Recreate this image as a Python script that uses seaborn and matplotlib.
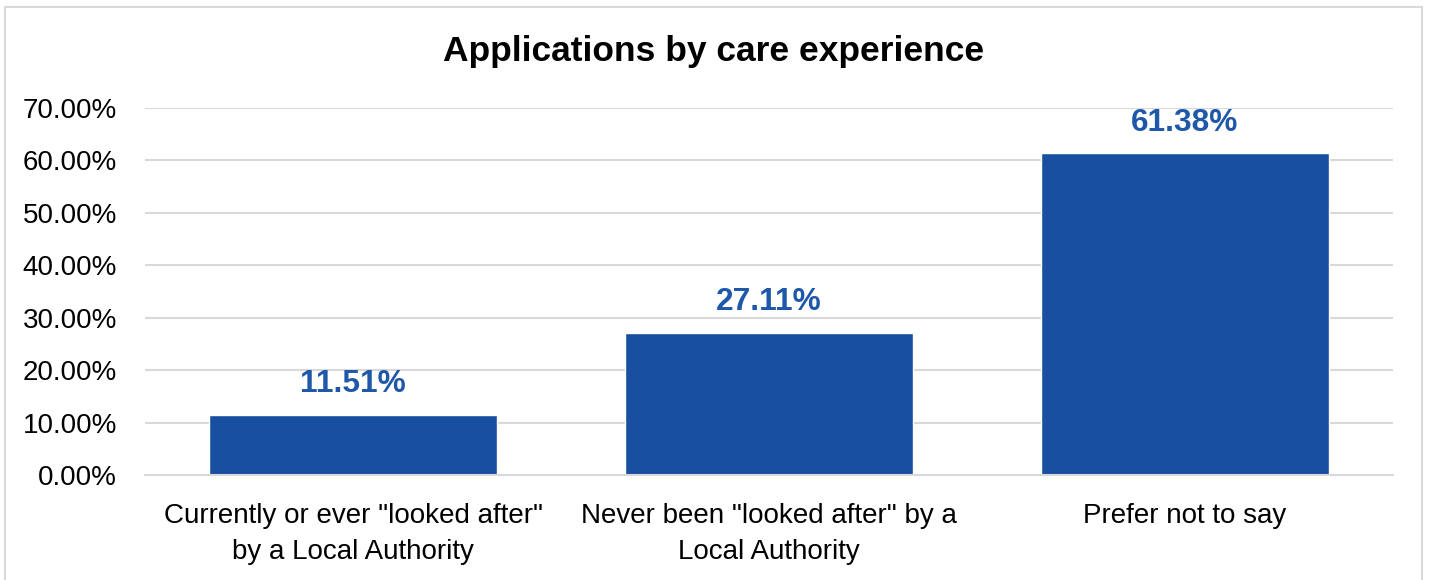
import matplotlib
matplotlib.use("Agg")
import matplotlib.pyplot as plt
import seaborn as sns
import pandas as pd
from matplotlib.patches import Rectangle
from matplotlib.ticker import FuncFormatter

categories = ['Currently or ever "looked after"\nby a Local Authority',
              'Never been "looked after" by a\nLocal Authority',
              'Prefer not to say']
values = [11.51, 27.11, 61.38]
value_labels = ["11.51%", "27.11%", "61.38%"]
title = "Applications by care experience"

sns.set_theme(style="white")
plt.rcParams['font.family'] = ['Liberation Sans', 'DejaVu Sans']

BAR = "#194FA0"
LABEL = "#1F58A8"
GRID = "#D9D9D9"

fig = plt.figure(figsize=(14.29, 5.80), dpi=100)
ax = fig.add_axes([145/1429, 105/580, (1393-145)/1429, (475-108)/580])

df = pd.DataFrame({"cat": categories, "val": values})
sns.barplot(data=df, x="cat", y="val", color=BAR, width=0.69, ax=ax, saturation=1)

ax.set_ylim(0, 70)
ax.set_yticks(range(0, 71, 10))
ax.yaxis.set_major_formatter(FuncFormatter(lambda v, p: f"{v:.2f}%"))
ax.grid(axis="y", color=GRID, linewidth=1.5)
ax.set_axisbelow(True)
for s in ["top", "right", "left"]:
    ax.spines[s].set_visible(False)
ax.spines["bottom"].set_color(GRID)
ax.spines["bottom"].set_linewidth(1.5)
ax.tick_params(axis="both", length=0)
ax.tick_params(axis="y", labelsize=20, pad=20, labelcolor="#000000")
ax.tick_params(axis="x", labelsize=20, pad=20, labelcolor="#000000")
ax.set_xlabel("")
ax.set_ylabel("")
for lbl in ax.get_xticklabels():
    lbl.set_linespacing(1.5)

for i, (v, t) in enumerate(zip(values, value_labels)):
    ax.annotate(t, (i, v), xytext=(0, 22), textcoords="offset points",
                ha="center", va="center", fontsize=22.8, fontweight="bold", color=LABEL)

fig.text(0.4995, 1 - 51/580, title, ha="center", va="center", fontsize=25.5, fontweight="bold", color="#000000")

fig.patches.append(Rectangle((5/1429, -0.05), (1422-5)/1429, 1 - 7/580 + 0.05,
                             transform=fig.transFigure, fill=False, edgecolor=GRID, linewidth=1.5))

fig.savefig("out.png", dpi=100)
